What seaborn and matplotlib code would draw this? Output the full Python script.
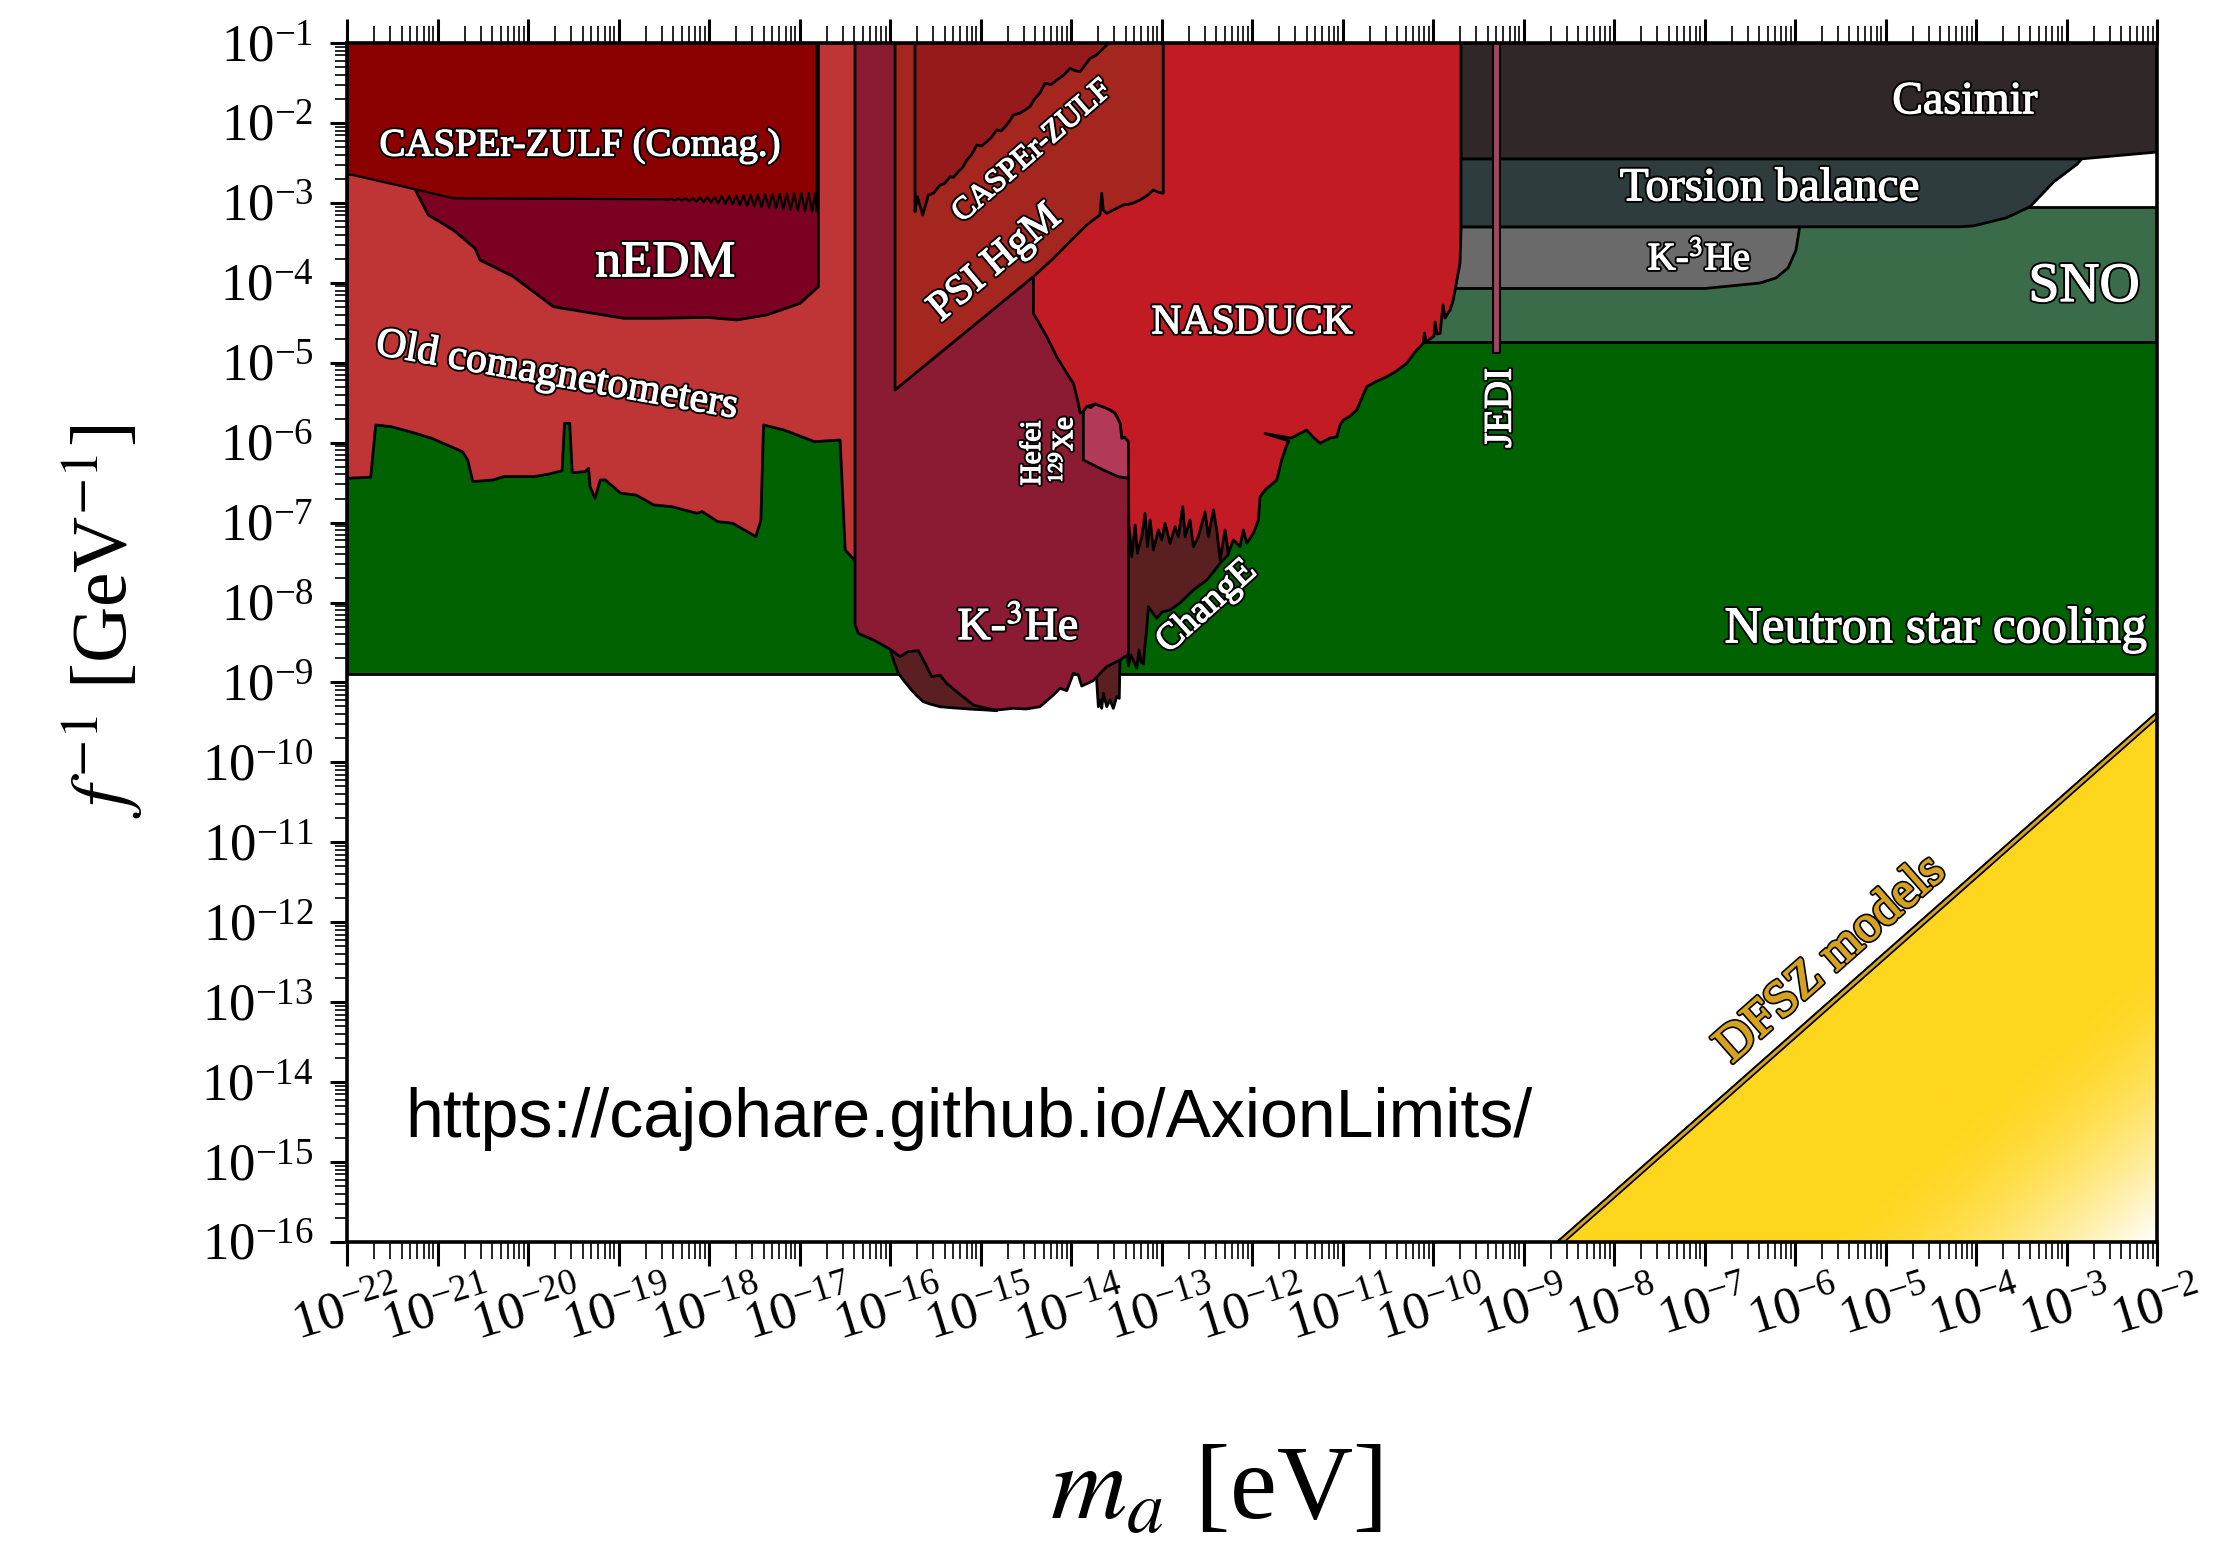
import numpy as np
import matplotlib
matplotlib.use("Agg")
import matplotlib.pyplot as plt
import matplotlib.patheffects as pe
from matplotlib.patches import Polygon
from matplotlib.ticker import LogLocator, NullFormatter
import seaborn as sns

# ---------------------------------------------------------------------------
# Data: all values are log10(m_a / eV) and log10(f^-1 / GeV^-1)
# ---------------------------------------------------------------------------
LOGM_RANGE = [-22.0, -2.0]
LOGF_RANGE = [-16.0, -1.0]
TOP = LOGF_RANGE[1]

# Neutron star cooling (excludes the band above this line, up to the SNO band)
ns_logm = [-22.0, -2.0, -2.0, -22.0]
ns_logf = [-8.90, -8.90, -4.737, -4.737]

# SNO
sno_logm = [-10.5, -2.0, -2.0, -10.5]
sno_logf = [-4.737, -4.737, -3.048, -3.048]

# K-3He (high mass)
k3he_hi_logm = [-10.5, -5.949, -5.989, -6.077, -6.210, -6.387, -6.994, -10.5]
k3he_hi_logf = [-3.300, -3.300, -3.590, -3.815, -3.940, -4.003, -4.071, -4.071]

# Torsion balance
torsion_logm = [-10.5, -2.830, -2.883, -3.143, -3.403, -3.664, -4.028, -4.186, -10.5]
torsion_logf = [-2.449, -2.449, -2.516, -2.739, -3.048, -3.187, -3.288, -3.300, -3.300]

# Casimir
casimir_logm = [-10.5, -2.0, -2.0, -2.83, -10.5]
casimir_logf = [-1.0, -1.0, -2.364, -2.449, -2.449]

# Old comagnetometers (lower edge of excluded region)
old_logm = [-22.0, -21.739, -21.683, -21.514, -21.30, -21.063, -20.725, -20.667, -20.611,
            -20.387, -20.273, -19.935, -19.766, -19.624, -19.597, -19.540, -19.512, -19.371,
            -19.331, -19.315, -19.260, -19.202, -19.146, -18.977, -18.808, -18.610, -18.413,
            -18.132, -18.075, -17.905, -17.737, -17.483, -17.427, -17.398, -17.172, -16.834,
            -16.552, -16.496, -16.411, -16.33]
old_logf = [-6.446, -6.433, -5.779, -5.800, -5.865, -5.946, -6.113, -6.217, -6.488,
            -6.467, -6.425, -6.425, -6.392, -6.351, -5.758, -5.758, -6.376, -6.363,
            -6.321, -6.551, -6.696, -6.467, -6.467, -6.633, -6.655, -6.780, -6.801,
            -6.884, -6.863, -6.988, -7.009, -7.176, -6.968, -5.779, -5.842, -5.988,
            -5.967, -7.343, -7.447, -7.59]

# nEDM (lower edge)
nedm_logm = [-21.249, -21.102, -20.826, -20.586, -20.530, -20.162, -19.720, -19.278,
             -18.947, -18.541, -18.025, -17.694, -17.362, -16.994, -16.792]
nedm_logf = [-2.830, -3.152, -3.340, -3.569, -3.715, -3.923, -4.299, -4.382,
             -4.444, -4.444, -4.432, -4.465, -4.402, -4.257, -4.049]

# CASPEr-ZULF comagnetometer (lower edge)
czc_logm = [-22.0, -21.94, -21.249, -20.825, -18.50, -18.46, -18.42, -18.38, -18.34,
            -18.30, -18.26, -18.22, -18.18, -18.14, -18.10, -18.06, -18.02, -17.98,
            -17.94, -17.90, -17.86, -17.82, -17.78, -17.74, -17.70, -17.66, -17.62,
            -17.58, -17.54, -17.50, -17.46, -17.42, -17.38, -17.34, -17.30, -17.26,
            -17.22, -17.18, -17.14, -17.10, -17.06, -17.02, -16.98, -16.94, -16.90,
            -16.86, -16.83, -16.81]
czc_logf = [-2.645, -2.651, -2.830, -2.943, -2.955, -2.962, -2.950, -2.968, -2.945,
            -2.972, -2.942, -2.978, -2.938, -2.985, -2.933, -2.990, -2.928, -2.998,
            -2.925, -3.005, -2.918, -3.012, -2.915, -3.020, -2.908, -3.030, -2.905,
            -3.038, -2.900, -3.045, -2.896, -3.055, -2.892, -3.062, -2.888, -3.070,
            -2.885, -3.080, -2.882, -3.088, -2.880, -3.095, -2.878, -3.105, -2.876,
            -3.112, -2.880, -3.100]

# ChangE (three visible pieces)
change_a_logm = [-16.000, -15.956, -15.908, -15.845, -15.779, -15.713, -15.632, -15.558,
                 -15.448, -15.282, -15.080, -14.932, -14.821, -14.821, -16.000]
change_a_logf = [-8.585, -8.744, -8.886, -8.982, -9.073, -9.157, -9.241, -9.270,
                 -9.304, -9.320, -9.336, -9.345, -9.354, -8.0, -8.0]
change_b_logm = [-13.716, -13.698, -13.680, -13.661, -13.643, -13.624, -13.606, -13.570,
                 -13.533, -13.495, -13.467, -13.459, -13.459, -13.716]
change_b_logf = [-8.991, -9.304, -9.220, -9.324, -9.136, -9.220, -9.304, -9.220,
                 -9.324, -9.178, -9.199, -8.719, -8.5, -8.5]
change_c_logm = [-13.376, -13.366, -13.337, -13.304, -13.274, -13.249, -13.227, -13.201,
                 -13.182, -13.160, -13.146, -13.105, -13.053, -12.994, -12.906, -12.796,
                 -12.648, -12.500, -12.409, -12.353, -12.265, -12.265, -13.376]
change_c_logf = [-8.65, -8.794, -8.657, -8.744, -8.819, -8.594, -8.744, -8.769,
                 -8.532, -8.281, -8.052, -8.119, -8.198, -8.119, -8.094, -8.006,
                 -7.843, -7.718, -7.593, -7.509, -7.406, -6.0, -6.0]

# K-3He comagnetometer (low mass)
k3he_logm = [-16.387, -16.387, -16.350, -16.313, -16.185, -16.000, -15.890, -15.798,
             -15.687, -15.613, -15.539, -15.448, -15.374, -15.263, -15.080, -14.932,
             -14.821, -14.638, -14.497, -14.343, -14.195, -14.122, -14.047, -13.974,
             -13.919, -13.882, -13.754, -13.606, -13.459, -13.378, -13.366, -13.366]
k3he_logf = [-1.0, -8.281, -8.385, -8.406, -8.468, -8.585, -8.678, -8.615,
             -8.603, -8.761, -8.928, -8.907, -9.011, -9.116, -9.282, -9.324,
             -9.345, -9.324, -9.332, -9.304, -9.157, -9.073, -9.103, -8.886,
             -8.907, -9.045, -8.978, -8.803, -8.719, -8.657, -8.657, -1.0]

# NASDUCK
nasduck_logm = [-14.416, -14.416, -14.268, -14.158, -14.047, -13.974, -13.919, -13.900,
                -13.864, -13.826, -13.735, -13.569, -13.513, -13.458, -13.439, -13.384,
                -13.366, -13.362, -13.329, -13.292, -13.267, -13.218, -13.182, -13.156,
                -13.126, -13.090, -13.035, -12.997, -12.961, -12.906, -12.850, -12.814,
                -12.765, -12.740, -12.685, -12.648, -12.593, -12.519, -12.482, -12.427,
                -12.390, -12.353, -12.298, -12.261, -12.206, -12.132, -12.096, -12.058,
                -11.985, -11.930, -11.911, -11.856, -11.727, -11.672, -11.617, -11.591,
                -11.856, -11.569, -11.396, -11.326, -11.249, -11.138, -11.064, -11.027,
                -10.991, -10.917, -10.843, -10.773, -10.732, -10.641, -10.511, -10.420,
                -10.290, -10.199, -10.107, -10.094, -10.077, -9.989, -9.978, -9.956,
                -9.922, -9.889, -9.867, -9.812, -9.776, -9.746, -9.702, -9.691, -9.691]
nasduck_logf = [-1.0, -4.382, -4.674, -4.925, -5.132, -5.257, -5.508, -5.629,
                -5.613, -5.550, -5.517, -5.592, -5.633, -5.758, -5.946, -5.967,
                -5.988, -7.005, -7.427, -7.030, -7.384, -7.177, -6.884, -7.302,
                -6.968, -7.343, -7.093, -7.218, -7.009, -7.259, -7.052, -7.177,
                -6.801, -7.177, -6.968, -7.302, -7.177, -6.864, -7.177, -6.843,
                -7.093, -7.468, -7.093, -7.384, -7.218, -7.302, -7.093, -7.259,
                -7.134, -6.968, -6.676, -6.593, -6.467, -6.217, -6.030, -5.980,
                -5.886, -5.942, -5.842, -5.929, -6.008, -5.942, -5.926, -5.779,
                -5.717, -5.667, -5.592, -5.404, -5.300, -5.241, -5.175, -5.116,
                -5.007, -4.866, -4.757, -4.628, -4.741, -4.666, -4.491, -4.641,
                -4.632, -4.278, -4.441, -4.341, -4.216, -4.028, -3.756, -3.340, -1.0]

# PSI HgM
psi_logm = [-15.945, -15.945, -14.417, -14.200, -13.975, -13.827, -13.754, -13.680,
            -13.661, -13.644, -13.606, -13.533, -13.423, -13.330, -13.238, -13.160,
            -13.091, -13.030, -12.981, -12.981]
psi_logf = [-1.0, -5.341, -3.924, -3.700, -3.443, -3.277, -3.214, -3.152,
            -2.880, -3.089, -3.131, -3.089, -3.027, -3.010, -2.964, -2.910,
            -2.839, -2.870, -2.880, -1.0]

# CASPEr-ZULF
czulf_logm = [-15.724, -15.724, -15.698, -15.639, -15.577, -15.52, -15.448, -15.40,
              -15.337, -15.30, -15.245, -15.20, -15.152, -15.10, -15.042, -14.99,
              -14.932, -14.88, -14.821, -14.77, -14.729, -14.68, -14.638, -14.57,
              -14.508, -14.45, -14.398, -14.34, -14.287, -14.22, -14.158, -14.08,
              -14.011, -13.96, -13.901, -13.84, -13.790, -13.72, -13.643, -13.605, -13.58]
czulf_logf = [-1.0, -3.111, -2.923, -3.152, -2.902, -2.880, -2.777, -2.760,
              -2.673, -2.680, -2.610, -2.560, -2.464, -2.400, -2.276, -2.290,
              -2.235, -2.180, -2.088, -2.100, -2.047, -1.980, -1.901, -1.880,
              -1.838, -1.790, -1.692, -1.620, -1.504, -1.520, -1.463, -1.400,
              -1.317, -1.345, -1.359, -1.270, -1.191, -1.150, -1.066, -1.025, -1.0]

# Hefei 129Xe
hefei_logm = [-13.864, -13.826, -13.780, -13.735, -13.680, -13.620, -13.569, -13.513,
              -13.458, -13.439, -13.410, -13.384, -13.366, -13.366, -13.477, -13.644, -13.864]
hefei_logf = [-5.613, -5.550, -5.560, -5.517, -5.540, -5.565, -5.592, -5.633,
              -5.758, -5.946, -5.930, -5.967, -5.988, -6.446, -6.426, -6.342, -6.217]

# JEDI
jedi_logm = [-9.335, -9.262, -9.262, -9.335]
jedi_logf = [-4.884, -4.884, -1.0, -1.0]

# DFSZ models
dfsz_band_logm = [-8.63, -2.0, -2.0, -8.55]
dfsz_band_logf = [-16.0, -9.37, -9.45, -16.0]
dfsz_fill_logm = [-8.55, -2.0, -2.0]
dfsz_fill_logf = [-16.0, -16.0, -9.45]

# Colours
C_NS = "#006200"
C_SNO = "#3B6C49"
C_K3HE_HI = "#6A6A6A"
C_TORSION = "#2F3C3D"
C_CASIMIR = "#302728"
C_OLD = "#BF3434"
C_NEDM = "#7B0022"
C_CZC = "#8B0000"
C_CHANGE = "#5A1F21"
C_K3HE = "#8A1B33"
C_NASDUCK = "#C31B24"
C_PSI = "#A5261F"
C_CZULF = "#961A1B"
C_HEFEI = "#B23A58"
C_JEDI = "#9E4862"
C_DFSZ = "#FFD61E"
C_DFSZ_LINE = "#D4A21E"

# ---------------------------------------------------------------------------
sns.set_theme(style="ticks")
plt.rcParams["font.family"] = ["Liberation Serif", "DejaVu Serif"]
plt.rcParams["mathtext.fontset"] = "stix"
plt.rcParams["axes.edgecolor"] = "black"
plt.rcParams["text.color"] = "black"
plt.rcParams["axes.labelcolor"] = "black"
plt.rcParams["xtick.color"] = "black"
plt.rcParams["ytick.color"] = "black"

fig = plt.figure(figsize=(22.29, 15.47), dpi=100)
ax = fig.add_axes([0.1557, 0.1972, 0.8120, 0.7750])
ax.set_xscale("log")
ax.set_yscale("log")
ax.set_xlim(10 ** LOGM_RANGE[0], 10 ** LOGM_RANGE[1])
ax.set_ylim(10 ** LOGF_RANGE[0], 10 ** LOGF_RANGE[1])
ax.set_autoscale_on(False)


def region(logm, logf, color, z, lw=2.0, close_top=False):
    m = list(logm)
    f = list(logf)
    if close_top:
        m = m + [m[-1], m[0]]
        f = f + [TOP, TOP]
    pts = np.column_stack([10.0 ** np.asarray(m), 10.0 ** np.asarray(f)])
    p = Polygon(pts, closed=True, facecolor=color, edgecolor="black", lw=lw,
                zorder=z, joinstyle="round")
    ax.add_patch(p)
    return p


region(ns_logm, ns_logf, C_NS, 1)
region(sno_logm, sno_logf, C_SNO, 2)
region(k3he_hi_logm, k3he_hi_logf, C_K3HE_HI, 3)
region(torsion_logm, torsion_logf, C_TORSION, 3)
region(casimir_logm, casimir_logf, C_CASIMIR, 3)
region(old_logm, old_logf, C_OLD, 4, close_top=True)
region(nedm_logm, nedm_logf, C_NEDM, 5, close_top=True)
region(czc_logm, czc_logf, C_CZC, 6, lw=1.6, close_top=True)
region(change_a_logm, change_a_logf, C_CHANGE, 7)
region(change_b_logm, change_b_logf, C_CHANGE, 7)
region(change_c_logm, change_c_logf, C_CHANGE, 7)
region(k3he_logm, k3he_logf, C_K3HE, 8)
region(nasduck_logm, nasduck_logf, C_NASDUCK, 9)
region(psi_logm, psi_logf, C_PSI, 10)
region(czulf_logm, czulf_logf, C_CZULF, 11)
region(hefei_logm, hefei_logf, C_HEFEI, 12)
region(jedi_logm, jedi_logf, C_JEDI, 13, lw=1.5)

# DFSZ: yellow triangle fading to white in the lower-right corner
tri = region(dfsz_fill_logm, dfsz_fill_logf, "none", 2, lw=1.0)
to_axes = ax.transData + ax.transAxes.inverted()
corners = to_axes.transform(np.column_stack([10.0 ** np.asarray(dfsz_fill_logm),
                                             10.0 ** np.asarray(dfsz_fill_logf)]))
x0 = corners[:, 0].min()
y1 = corners[:, 1].max()
gx, gy = np.meshgrid(np.linspace(0, 1, 400), np.linspace(0, 1, 400))
u = (gx - x0) / (1 - x0)
v = gy / y1
s = 0.5 * (u + 1 - v)
w = np.clip((s - 0.72) / 0.28, 0, 1) ** 1.6
yellow = np.array(matplotlib.colors.to_rgb(C_DFSZ))
img = yellow[None, None, :] * (1 - w[..., None]) + np.ones(3)[None, None, :] * w[..., None]
im = ax.imshow(img, extent=(0, 1, 0, 1), transform=ax.transAxes, origin="lower",
               aspect="auto", zorder=1.5, interpolation="bilinear")
im.set_clip_path(tri)
region(dfsz_band_logm, dfsz_band_logf, C_DFSZ_LINE, 2.5, lw=1.2)
sns.lineplot(x=10.0 ** np.asarray(dfsz_band_logm[:2]), y=10.0 ** np.asarray(dfsz_band_logf[:2]),
             color="black", lw=1.2, ax=ax, zorder=3, sort=False, estimator=None)

ax.set_xlim(10 ** LOGM_RANGE[0], 10 ** LOGM_RANGE[1])
ax.set_ylim(10 ** LOGF_RANGE[0], 10 ** LOGF_RANGE[1])

# ---------------------------------------------------------------------------
# Labels on the plot: white letters with a thin black rim
outline = [pe.Stroke(linewidth=3.6, foreground="black"),
           pe.Stroke(linewidth=0.9, foreground="white"),
           pe.Normal()]


def label(logm, logf, text, size, rot=0, color="white", ha="center", stroke=None):
    ax.text(10.0 ** logm, 10.0 ** logf, text, fontsize=size, rotation=rot, color=color,
            ha=ha, va="center", rotation_mode="anchor", zorder=20,
            path_effects=stroke if stroke is not None else outline)


label(-19.425, -2.289, "CASPEr-ZULF (Comag.)", 28)
label(-18.486, -3.765, "nEDM", 37)
label(-19.68, -5.16, "Old comagnetometers", 30, rot=-10)
label(-14.425, -2.360, "CASPEr-ZULF", 23, rot=41)
label(-14.840, -3.756, "PSI HgM", 30, rot=40)
label(-12.0, -4.503, "NASDUCK", 30)
label(-14.585, -8.319, "K-$^3$He", 33)
label(-14.42, -6.13, "Hefei", 21, rot=90)
label(-14.077, -6.09, "$^{129}$Xe", 21, rot=90)
label(-12.50, -8.052, "ChangE", 27, rot=42)
label(-9.248, -5.567, "JEDI", 28, rot=90)
label(-4.121, -1.738, "Casimir", 33)
label(-6.276, -2.827, "Torsion balance", 34)
label(-7.060, -3.715, "K-$^3$He", 28)
label(-2.806, -4.053, "SNO", 40)
label(-2.11, -8.344, "Neutron star cooling", 37, ha="right")
label(-5.60, -12.47, "DFSZ models", 37, rot=41.4, color=C_DFSZ_LINE,
      stroke=[pe.Stroke(linewidth=3.4, foreground="black"),
              pe.Stroke(linewidth=1.0, foreground=C_DFSZ_LINE), pe.Normal()])
ax.text(10.0 ** -21.36, 10.0 ** -14.462, "https://cajohare.github.io/AxionLimits/",
        fontsize=49, family=["Liberation Sans", "DejaVu Sans"], color="black",
        ha="left", va="center", zorder=20)

# ---------------------------------------------------------------------------
# Axes styling
for sp in ax.spines.values():
    sp.set_visible(True)
    sp.set_linewidth(2.6)
    sp.set_color("black")
    sp.set_zorder(30)

ax.xaxis.set_major_locator(LogLocator(base=10, numticks=40))
ax.xaxis.set_minor_locator(LogLocator(base=10, subs=np.arange(2, 10), numticks=400))
ax.yaxis.set_major_locator(LogLocator(base=10, numticks=40))
ax.yaxis.set_minor_locator(LogLocator(base=10, subs=np.arange(2, 10), numticks=400))
ax.xaxis.set_minor_formatter(NullFormatter())
ax.yaxis.set_minor_formatter(NullFormatter())

ax.tick_params(axis="x", which="major", direction="out", length=17, width=2.2,
               top=True, bottom=True, labeltop=False, labelsize=38, pad=5)
ax.tick_params(axis="x", which="minor", direction="out", length=12, width=1.2,
               top=True, bottom=True)
ax.tick_params(axis="y", which="major", direction="out", length=12, width=2.2,
               left=True, right=False, labelsize=38, pad=12)
ax.tick_params(axis="y", which="minor", direction="out", length=8.5, width=1.2,
               left=True, right=False)
for lab in ax.get_xticklabels():
    lab.set_rotation(17)
    lab.set_ha("center")

ax.set_xlabel("$m_a$ [eV]", fontsize=76)
ax.set_ylabel("$f^{-1}$ [GeV$^{-1}$]", fontsize=56)
ax.xaxis.set_label_coords(0.48, -0.21)
ax.xaxis.label.set_va("center")
ax.yaxis.set_label_coords(-0.135, 0.518)
ax.yaxis.label.set_va("center")

ax.set_facecolor("white")
fig.savefig("out.png", dpi=100, facecolor="white")
